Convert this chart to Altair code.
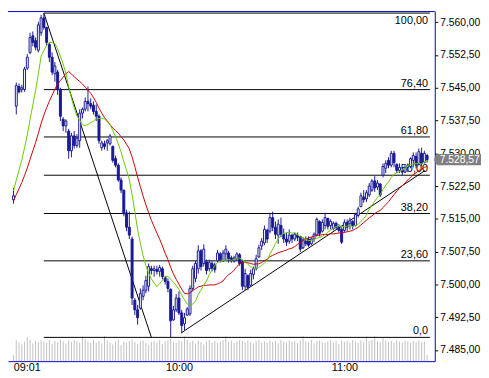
import altair as alt
import pandas as pd

# ---------------- data ----------------
minutes = list(range(-1, 150))   # minute index, 0 = 09:01 (first bar = previous close)

opens = [
 7519.4,
 7540.8, 7545.3, 7544.6, 7544.6, 7549.5, 7553.1, 7556.9, 7555.8, 7553.6, 7557.6,
 7561.0, 7558.8, 7554.9, 7552.0, 7548.2, 7548.6, 7544.6, 7537.8, 7536.3, 7535.1,
 7530.6, 7534.0, 7531.8, 7532.9, 7539.2, 7540.1, 7541.9, 7541.4, 7541.0, 7539.6,
 7538.5, 7531.3, 7532.2, 7532.4, 7532.2, 7531.6, 7528.8, 7527.3, 7523.9, 7521.6,
 7516.4, 7513.1, 7510.4, 7496.4, 7494.2, 7494.6, 7497.3, 7498.7, 7499.6, 7503.6,
 7503.2, 7503.4, 7503.0, 7503.6, 7501.6, 7500.7, 7498.9, 7491.9, 7494.2, 7496.9,
 7493.5, 7491.0, 7493.0, 7493.3, 7499.1, 7501.4, 7503.6, 7507.7, 7504.8, 7505.2,
 7503.6, 7504.8, 7504.5, 7505.4, 7507.0, 7505.4, 7507.0, 7507.2, 7506.1, 7505.4,
 7505.9, 7506.8, 7505.2, 7499.6, 7502.0, 7499.8, 7502.3, 7503.6, 7506.3, 7508.8,
 7509.5, 7512.4, 7512.2, 7515.3, 7513.1, 7511.3, 7513.5, 7511.5, 7510.4, 7509.9,
 7511.3, 7510.4, 7511.3, 7511.0, 7508.4, 7509.9, 7510.4, 7509.3, 7510.4, 7511.3,
 7514.4, 7512.2, 7513.5, 7515.1, 7513.5, 7512.8, 7514.0, 7513.1, 7512.6, 7512.4,
 7514.2, 7514.0, 7514.4, 7513.5, 7515.8, 7517.8, 7520.0, 7519.6, 7520.5, 7521.6,
 7523.7, 7522.3, 7523.0, 7525.0, 7526.6, 7528.4, 7527.3, 7530.0, 7527.5, 7526.1,
 7526.1, 7525.7, 7526.8, 7527.0, 7528.4, 7529.3, 7527.7, 7530.0, 7527.9, 7529.5,
]
highs = [
 7522.1,
 7546.2, 7546.0, 7545.7, 7549.8, 7552.7, 7557.6, 7557.9, 7556.5, 7560.1, 7561.7,
 7562.1, 7559.0, 7555.4, 7553.1, 7550.9, 7549.1, 7545.0, 7538.3, 7537.8, 7535.6,
 7534.7, 7535.1, 7534.4, 7540.1, 7540.5, 7542.8, 7545.3, 7542.6, 7541.9, 7541.2,
 7538.9, 7532.9, 7532.9, 7533.3, 7534.4, 7531.8, 7529.5, 7527.7, 7524.5, 7521.6,
 7517.1, 7516.7, 7511.0, 7496.9, 7495.3, 7499.1, 7499.8, 7502.0, 7504.8, 7504.3,
 7504.3, 7504.3, 7504.5, 7504.1, 7502.0, 7501.4, 7499.1, 7495.1, 7497.8, 7498.4,
 7494.2, 7493.5, 7494.8, 7499.8, 7504.3, 7505.4, 7509.0, 7508.1, 7509.2, 7505.7,
 7505.7, 7505.4, 7505.0, 7507.9, 7507.4, 7507.9, 7509.0, 7507.7, 7506.6, 7506.6,
 7507.4, 7507.2, 7505.4, 7503.6, 7502.3, 7503.4, 7504.1, 7506.8, 7509.1, 7510.6,
 7513.5, 7512.8, 7516.4, 7516.7, 7514.4, 7514.9, 7515.3, 7512.8, 7511.9, 7512.6,
 7511.5, 7511.9, 7511.9, 7511.0, 7510.8, 7511.0, 7511.0, 7510.8, 7511.9, 7515.3,
 7514.7, 7514.9, 7516.4, 7515.3, 7514.9, 7514.4, 7514.4, 7513.8, 7513.1, 7514.9,
 7514.9, 7515.3, 7514.7, 7516.4, 7517.8, 7521.0, 7521.6, 7521.6, 7523.2, 7524.1,
 7524.8, 7523.9, 7523.2, 7527.7, 7528.4, 7529.1, 7530.6, 7530.6, 7527.7, 7527.7,
 7526.8, 7527.3, 7527.7, 7529.1, 7530.2, 7530.2, 7531.1, 7531.3, 7530.6, 7529.9,
]
lows = [
 7518.5,
 7538.9, 7543.7, 7543.9, 7544.1, 7549.1, 7552.7, 7554.5, 7553.6, 7553.1, 7556.9,
 7558.3, 7554.7, 7550.9, 7547.9, 7546.4, 7543.4, 7537.4, 7535.1, 7534.7, 7528.8,
 7529.1, 7531.1, 7531.3, 7531.3, 7538.0, 7539.6, 7539.6, 7540.1, 7538.9, 7537.4,
 7532.2, 7530.6, 7530.9, 7530.6, 7531.8, 7527.9, 7526.8, 7523.5, 7520.9, 7515.6,
 7512.2, 7510.4, 7495.3, 7493.0, 7490.8, 7494.2, 7496.4, 7498.0, 7498.4, 7502.3,
 7501.8, 7502.3, 7501.8, 7501.2, 7500.0, 7498.2, 7487.9, 7491.7, 7493.7, 7493.0,
 7488.8, 7489.4, 7492.8, 7492.8, 7498.4, 7500.5, 7502.5, 7503.2, 7504.1, 7502.3,
 7503.0, 7503.0, 7502.7, 7505.0, 7505.0, 7505.2, 7505.4, 7505.0, 7505.0, 7505.0,
 7505.4, 7504.3, 7498.7, 7498.7, 7498.7, 7499.6, 7501.2, 7503.2, 7506.1, 7507.9,
 7509.0, 7509.5, 7511.7, 7512.2, 7510.4, 7509.3, 7510.8, 7509.5, 7508.8, 7509.3,
 7509.5, 7509.9, 7509.9, 7507.4, 7508.1, 7508.8, 7508.6, 7509.0, 7509.7, 7511.0,
 7511.0, 7511.9, 7512.6, 7512.6, 7512.6, 7512.4, 7512.6, 7511.9, 7509.3, 7511.9,
 7512.2, 7512.6, 7512.6, 7513.3, 7515.3, 7517.8, 7518.7, 7518.9, 7520.0, 7521.2,
 7521.2, 7521.6, 7520.0, 7524.5, 7525.5, 7526.6, 7526.8, 7526.8, 7525.5, 7525.5,
 7525.0, 7525.5, 7525.7, 7526.6, 7526.8, 7526.6, 7527.3, 7527.0, 7527.7, 7527.9,
]
closes = [
 7520.3,
 7545.5, 7544.1, 7545.0, 7549.3, 7552.0, 7556.5, 7555.4, 7554.3, 7559.4, 7561.0,
 7558.8, 7555.4, 7552.0, 7548.6, 7550.0, 7544.6, 7538.5, 7536.3, 7537.4, 7530.6,
 7534.0, 7531.8, 7533.5, 7539.2, 7540.1, 7541.9, 7541.4, 7540.8, 7539.6, 7538.5,
 7532.9, 7532.4, 7531.6, 7532.9, 7534.0, 7528.4, 7527.3, 7523.9, 7521.6, 7516.2,
 7513.1, 7511.3, 7496.9, 7494.2, 7492.4, 7497.9, 7498.7, 7500.9, 7504.1, 7503.2,
 7503.6, 7503.0, 7503.9, 7501.8, 7500.7, 7499.1, 7491.7, 7494.2, 7496.9, 7493.5,
 7490.6, 7492.4, 7494.4, 7499.1, 7503.6, 7504.8, 7507.7, 7504.1, 7508.1, 7503.2,
 7505.0, 7503.6, 7503.4, 7507.2, 7505.7, 7507.2, 7508.1, 7505.9, 7505.4, 7506.1,
 7507.0, 7504.8, 7499.6, 7502.5, 7499.3, 7502.5, 7503.6, 7505.9, 7508.4, 7509.9,
 7512.6, 7510.4, 7515.3, 7513.1, 7511.5, 7513.8, 7511.5, 7510.4, 7509.7, 7511.3,
 7510.4, 7511.5, 7510.8, 7508.1, 7510.2, 7509.3, 7509.0, 7510.4, 7511.5, 7514.9,
 7511.7, 7514.2, 7515.3, 7513.3, 7514.4, 7514.0, 7513.1, 7512.4, 7509.7, 7514.2,
 7513.1, 7514.7, 7513.5, 7516.0, 7517.3, 7520.3, 7519.4, 7521.0, 7522.5, 7523.7,
 7522.1, 7523.2, 7520.5, 7527.0, 7527.7, 7527.3, 7530.0, 7527.9, 7526.1, 7526.8,
 7525.7, 7526.8, 7527.3, 7528.8, 7529.5, 7527.3, 7530.4, 7527.7, 7530.0, 7528.57,
]
volumes = [
 60,
 210, 190, 170, 200, 245, 220, 180, 205, 190, 215,
 200, 185, 215, 175, 205, 190, 220, 200, 180, 210,
 195, 215, 205, 190, 250, 225, 200, 185, 215, 190,
 205, 180, 255, 210, 190, 170, 200, 215, 160, 195,
 185, 205, 220, 195, 175, 200, 210, 185, 165, 195,
 205, 190, 215, 175, 200, 210, 225, 195, 185, 210,
 200, 250, 215, 190, 205, 180, 210, 195, 170, 200,
 215, 190, 205, 185, 200, 215, 250, 195, 210, 185,
 200, 215, 205, 190, 210, 195, 180, 205, 215, 190,
 200, 185, 210, 195, 205, 180, 215, 200, 190, 210,
 195, 205, 185, 210, 255, 200, 190, 215, 180, 205,
 210, 195, 185, 200, 215, 190, 205, 175, 210, 195,
 205, 190, 215, 200, 185, 210, 195, 250, 205, 215,
 255, 200, 190, 245, 210, 195, 205, 185, 215, 200,
 190, 210, 200, 185, 205, 195, 210, 190, 200, 60,
]
# closes of the previous session, used to warm up the moving averages
prior_closes = [7516.0, 7517.5, 7516.5, 7517.0, 7518.0, 7516.5, 7517.0, 7516.0, 7517.5, 7516.0,
                7520.5, 7521.5, 7522.0, 7521.0, 7522.5, 7521.5, 7522.0, 7521.0, 7521.8]

price_ticks = [7485.0, 7492.5, 7500.0, 7507.5, 7515.0, 7522.5, 7530.0, 7537.5, 7545.0, 7552.5, 7560.0]
time_ticks = [0, 59, 119]

fib_high = 7562.1
fib_low = 7487.9
fib_high_minute = 10
fib_low_minute = 49
fib_levels = [0.0, 23.6, 38.2, 50.0, 61.8, 76.4, 100.0]
fib_labels = ["0,0", "23,60", "38,20", "50,00", "61,80", "76,40", "100,00"]

trend_start = (60, 7489.0)
trend_end = (148.3, 7526.1)

# ---------------- frames ----------------
df = pd.DataFrame({"minute": minutes, "open": opens, "high": highs, "low": lows,
                   "close": closes, "volume": volumes})
allc = pd.Series(prior_closes + closes)
n0 = len(prior_closes)
df["ma_fast"] = allc.rolling(10).mean().iloc[n0:].values
df["ma_slow"] = allc.rolling(20).mean().iloc[n0:].values

x_min, x_max = -1.22, 150.0
fib_df = pd.DataFrame({
    "level": fib_levels,
    "price": [fib_low + (fib_high - fib_low) * l / 100 for l in fib_levels],
    "label": fib_labels,
    "x0": [fib_high_minute] * len(fib_levels),
    "x1": [x_max] * len(fib_levels),
})
diag_df = pd.DataFrame({
    "x0": [fib_high_minute, trend_start[0]],
    "y0": [fib_high, trend_start[1]],
    "x1": [fib_low_minute, trend_end[0]],
    "y1": [fib_low, trend_end[1]],
})
last_df = df.tail(1)[["minute", "close"]]

# ---------------- style ----------------
NAVY = "#1a1a96"
BLUE = "#0000cc"
W, H = 434, 356
AX_FONT = "Liberation Sans"
AX_SIZE = 10.5

x_scale = alt.Scale(domain=[x_min, x_max], nice=False, zero=False)
y_scale = alt.Scale(domain=[7482.46, 7562.56], nice=False, zero=False)

x_axis = alt.Axis(
    values=time_ticks, title=None, grid=False, ticks=False,
    domainColor=BLUE, domainWidth=1,
    labelExpr="pad(toString(floor((datum.value+1)/60)+9), 2, '0', 'left') + ':' + pad(toString((datum.value+1)%60), 2, '0', 'left')",
    labelFont="Liberation Sans", labelFontSize=11, labelColor="black", labelPadding=1,
    labelAlign={"condition": {"test": "datum.value < 1", "value": "left"}, "value": "center"},
    labelOffset={"condition": {"test": "datum.value < 1", "value": -3}, "value": 0},
)
y_axis = alt.Axis(
    orient="right", values=price_ticks, format=",.2f", title=None, grid=False,
    domainColor=BLUE, domainWidth=1, tickColor="#000000", tickSize=3,
    labelFont=AX_FONT, labelFontSize=AX_SIZE, labelColor="black", labelPadding=2,
)

def X(f):
    return alt.X(f, type="quantitative", scale=x_scale, axis=x_axis)

def Y(f):
    return alt.Y(f, type="quantitative", scale=y_scale, axis=y_axis)

base = alt.Chart(df)

volume = base.mark_rule(color="#c0c0c0", strokeWidth=1).encode(
    x=X("minute"),
    y=alt.Y("volume:Q", scale=alt.Scale(domain=[0, 3560], nice=False, zero=True), axis=None),
    y2=alt.datum(0),
)

fib_rules = alt.Chart(fib_df).mark_rule(color="black", strokeWidth=1).encode(
    x=X("x0"), x2="x1:Q", y=Y("price"))
fib_text = alt.Chart(fib_df).transform_filter("datum.level < 100").mark_text(
    align="right", baseline="bottom", dx=-2, dy=-1, font="Liberation Sans",
    fontSize=11, color="black").encode(x=X("x1"), y=Y("price"), text="label:N")
# the top label has no room above its line here, so it sits just under it
fib_text_top = alt.Chart(fib_df).transform_filter("datum.level >= 100").mark_text(
    align="right", baseline="top", dx=-2, dy=2, font="Liberation Sans",
    fontSize=11, color="black").encode(x=X("x1"), y=Y("price"), text="label:N")

diag = alt.Chart(diag_df).mark_rule(color="black", strokeWidth=1).encode(
    x=X("x0"), y=Y("y0"), x2="x1:Q", y2="y1:Q")

wick = base.mark_rule(color=NAVY, strokeWidth=1).encode(x=X("minute"), y=Y("low"), y2="high:Q")
body = base.mark_bar(size=2, stroke=NAVY, strokeWidth=1).encode(
    x=X("minute"), y=Y("open"), y2="close:Q",
    fill=alt.condition("datum.close >= datum.open", alt.value("white"), alt.value(NAVY)),
)
ma_fast = base.mark_line(color="#66cc00", strokeWidth=1).encode(x=X("minute"), y=Y("ma_fast"))
ma_slow = base.mark_line(color="#cc0000", strokeWidth=1).encode(x=X("minute"), y=Y("ma_slow"))

tag = alt.Chart(last_df).mark_point(
    shape="M -1 0 L -0.86 -0.24 L 1 -0.24 L 1 0.24 L -0.86 0.24 Z",
    size=2304, filled=True, fill="#808080", strokeWidth=0, opacity=1,
).encode(x=alt.value(W + 23), y=Y("close"))
tag_text = alt.Chart(last_df).mark_text(
    align="left", baseline="middle", font=AX_FONT, fontSize=AX_SIZE, color="white",
).encode(x=alt.value(W + 5), y=Y("close"), text=alt.Text("close:Q", format=",.2f"))

price = alt.layer(fib_rules, fib_text, fib_text_top, diag, wick, body, ma_slow, ma_fast, tag, tag_text)

top_line = alt.Chart(pd.DataFrame({"a": [0]})).mark_rule(color=BLUE, strokeWidth=1).encode(
    x=alt.value(0), x2=alt.value(W), y=alt.value(0.5))

chart = alt.layer(volume, price, top_line).resolve_scale(y="independent").properties(
    width=W, height=H,
    autosize=alt.AutoSizeParams(type="none"),
    padding={"left": 0, "top": 0, "right": 47, "bottom": 14},
    background="white",
).configure(
    locale={"number": {"decimal": ",", "thousands": ".", "grouping": [3], "currency": ["", ""]}}
).configure_view(strokeWidth=0)

chart.save("out.html", embed_options={"renderer": "svg", "actions": False})
